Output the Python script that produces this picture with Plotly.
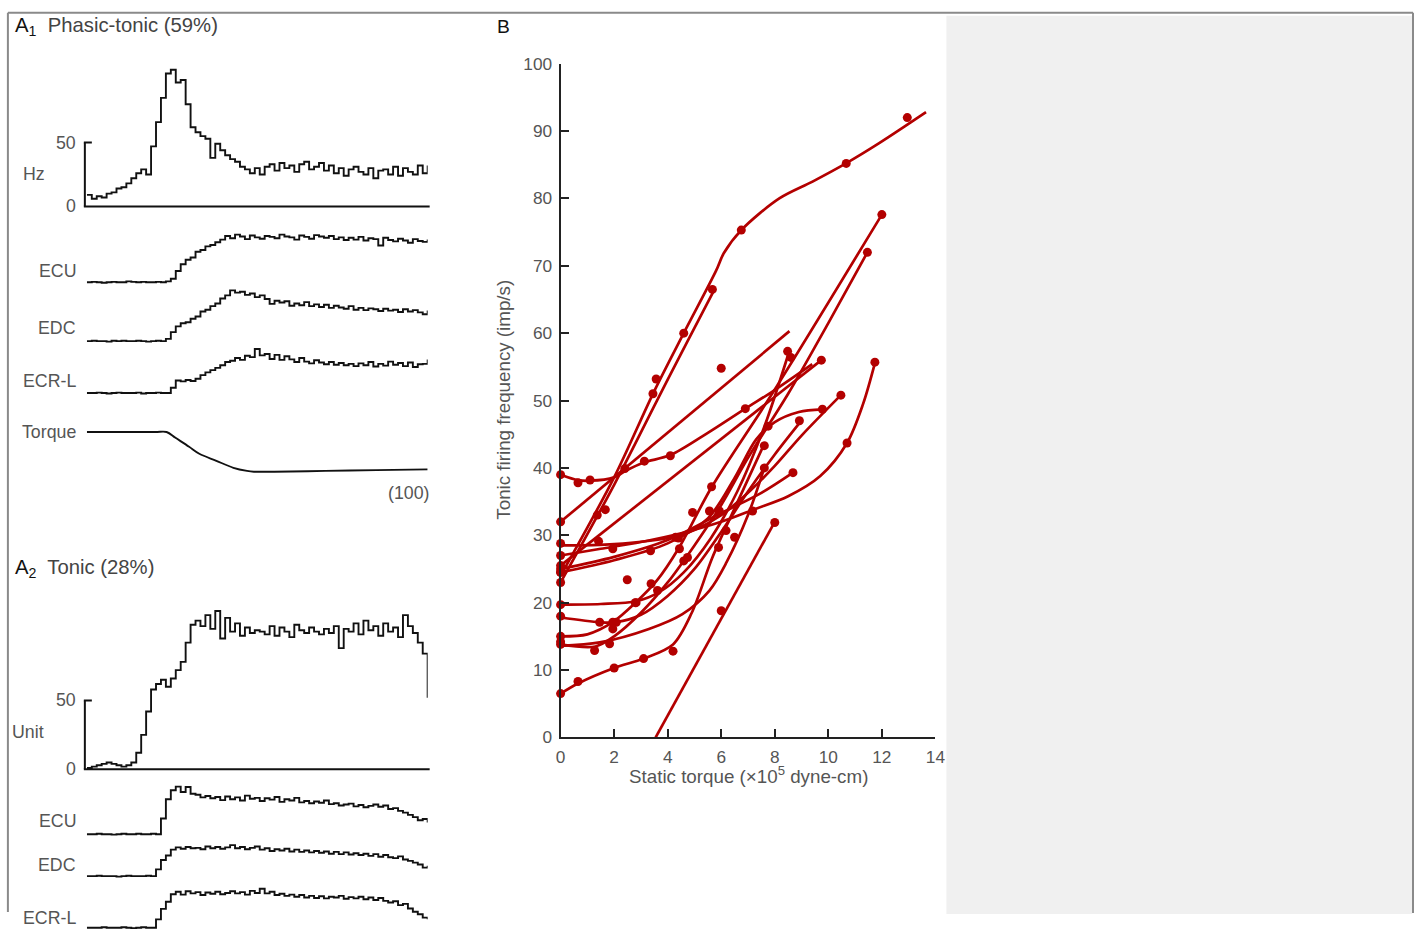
import plotly.graph_objects as go

W, H = 1423, 944
RED = "#b30000"
INK = "#111111"
GRAY = "#555555"
FONT = "Liberation Sans"

# ---------------- Panel A1 (phasic-tonic unit) ----------------
a1_hz = [9, 6, 8, 7, 10, 11, 14, 15, 18, 22, 26, 29, 25, 47, 66, 85, 104, 107, 97, 99,
         80, 62, 58, 55, 53, 38, 49, 44, 40, 37, 35, 31, 29, 26, 30, 25, 31, 33, 28, 34,
         30, 32, 27, 33, 35, 29, 31, 34, 28, 32, 26, 30, 24, 29, 31, 27, 25, 30, 22, 28,
         29, 25, 31, 24, 30, 27, 25, 32, 26, 32]
a1_ecu = [0, 0.1, 0, -0.1, 0, 0.1, 0, 0, 0.2, 0.1, 0, 0.1, 0, 0, 0.1, 0, 0.2,
          0.8, 2.5, 4.0, 5.0, 5.5, 6.8, 7.2, 8.0, 8.3, 8.9, 9.5, 10.3, 9.8, 10.6,
          10.2, 9.6, 10.4, 10.0, 9.7, 10.3, 10.1, 9.8, 10.6, 10.2, 10.0, 9.5, 10.4, 10.1,
          9.7, 10.5, 10.2, 9.9, 10.3, 9.6, 10.0, 9.4, 9.9, 9.5, 10.1, 9.3, 9.8, 9.6, 8.2,
          9.9, 9.4, 9.1, 9.7, 9.3, 8.8, 9.6, 9.2, 9.0, 9.5]
a1_edc = [0, 0.1, 0, 0, -0.1, 0.1, 0, 0.1, 0, 0, 0.1, 0, -0.1, 0, 0.1, 0,
          0.5, 2.0, 3.3, 4.0, 4.2, 5.0, 5.5, 6.6, 7.0, 7.8, 8.4, 9.5, 10.2, 11.3,
          10.8, 11.0, 10.3, 10.6, 9.8, 10.2, 9.4, 8.3, 9.0, 8.6, 8.9, 7.9, 8.4, 8.0,
          8.7, 7.8, 8.2, 7.6, 8.1, 7.4, 7.9, 7.5, 7.2, 7.8, 7.0, 7.4, 6.9, 7.3, 7.1,
          6.7, 7.2, 6.8, 7.0, 6.5, 7.1, 6.6, 6.9, 6.4, 6.0, 6.8]
a1_ecrl = [0, 0, 0.1, 0, -0.1, 0, 0.1, 0, 0, 0, 0.1, -0.1, 0, 0, 0.1, 0, 0,
           1.2, 2.8, 2.6, 2.9, 2.7, 3.2, 4.0, 4.6, 5.1, 5.6, 6.2, 6.9, 7.2, 7.8,
           7.4, 8.3, 8.0, 9.8, 8.4, 8.7, 7.6, 8.5, 7.4, 8.2, 7.5, 6.9, 7.8, 7.0,
           6.6, 7.3, 6.8, 6.4, 6.9, 6.3, 6.7, 6.2, 6.5, 6.0, 6.6, 6.2, 6.9, 5.9,
           6.5, 6.1, 7.0, 6.3, 6.7, 6.0, 6.8, 5.8, 6.4, 6.5, 7.5]
torque_t = [0, 20, 23.4, 26, 30, 33, 38, 43, 47, 49, 55, 70, 85, 100]
torque_v = [0, 0, 0, -1.5, -3.8, -5.6, -7.4, -9.2, -10.0, -10.2, -10.2, -10.0, -9.8, -9.6]

# ---------------- Panel A2 (tonic unit) ----------------
a2_unit = [1, 2, 3, 4, 5, 4, 3, 2, 3, 5, 12, 25, 42, 58, 62, 65, 60, 66, 72, 78,
           92, 105, 108, 104, 112, 102, 115, 95, 110, 100, 106, 97, 103, 99, 101, 100,
           98, 104, 97, 103, 100, 96, 105, 101, 99, 103, 100, 98, 102, 99, 104, 88,
           102, 100, 106, 98, 108, 101, 104, 97, 106, 100, 103, 96, 112, 104, 99, 92,
           84, 52]
a2_ecu = [0, 0, 0.1, 0, 0, -0.1, 0, 0.1, 0, 0, 0.1, 0, 0, 0.1, 0,
          3.5, 7.8, 9.8, 10.6, 9.4, 10.5, 9.0, 8.8, 8.2, 8.5, 8.0, 8.3, 7.6, 8.4, 7.8,
          8.2, 7.5, 8.6, 7.9, 8.1, 7.4, 8.0, 7.7, 8.3, 7.2, 7.8, 7.5, 8.1, 7.1, 7.4,
          6.9, 7.3, 7.0, 7.5, 6.7, 6.9, 6.4, 6.6, 6.8, 6.2, 6.5, 6.0, 6.3, 6.6, 6.1,
          6.4, 5.6, 5.8, 5.2, 4.8, 4.3, 3.8, 3.1, 3.4, 2.6]
a2_edc = [0, 0, 0.1, 0, 0, 0, -0.1, 0, 0.1, 0, 0, 0, 0.1, 0,
          1.5, 3.6, 4.6, 5.9, 6.4, 6.1, 6.5, 6.2, 6.3, 6.0, 6.6, 6.2, 6.5, 6.1, 6.4,
          6.9, 6.2, 6.5, 6.0, 6.3, 6.6, 5.9, 6.2, 5.6, 6.0, 5.7, 6.1, 5.5, 5.9, 5.4,
          5.7, 5.3, 5.6, 5.2, 5.5, 5.0, 5.4, 4.9, 5.3, 4.8, 5.1, 4.7, 5.0, 4.5, 4.9,
          4.3, 4.7, 4.2, 4.0, 4.4, 3.7, 3.4, 3.0, 2.6, 1.9, 2.3]
a2_ecrl = [0, 0, 0, 0.1, 0, 0, 0, 0.1, 0, -0.1, 0, 0.1, 0, 0,
           2.0, 4.5, 6.2, 8.0, 8.6, 7.9, 8.7, 8.2, 8.5, 7.8, 8.4, 8.1, 8.6, 8.0, 8.3,
           8.7, 8.2, 8.5, 7.9, 8.8, 8.3, 9.3, 8.2, 8.6, 7.8, 8.1, 7.6, 7.9, 7.4, 7.8,
           7.2, 7.6, 7.1, 7.5, 7.0, 7.4, 7.2, 7.6, 6.9, 7.3, 7.0, 7.4, 6.8, 7.2, 6.6,
           7.1, 6.4, 6.0, 6.3, 5.4, 5.7, 4.6, 3.8, 3.2, 2.4, 2.0]

# ---------------- Panel B (static torque vs tonic firing) ----------------
c01_fit_x = [0, 2, 3.45, 4.6, 5.8, 6.1, 6.75, 8.17, 9.41, 10.66, 11.9, 13.65]
c01_fit_y = [24, 38.6, 51, 60, 69.2, 71.9, 75.3, 80, 82.5, 85.2, 88.2, 92.8]
c01_pt_x = [0, 3.45, 4.6, 6.75, 10.67, 12.95]
c01_pt_y = [24.5, 51, 60, 75.3, 85.2, 92]

c02_fit_x = [0, 2, 3.6, 4.7, 5.75]
c02_fit_y = [23, 37.5, 50, 58.5, 66.5]
c02_pt_x = [0, 1.67, 1.37, 3.57, 5.67]
c02_pt_y = [23, 33.8, 33, 53.2, 66.5]

c03_fit_x = [0, 8.55]
c03_fit_y = [32, 60.3]
c03_pt_x = [0, 6.0]
c03_pt_y = [32, 54.8]

c04_fit_x = [0, 0.65, 1.1, 2, 2.4, 3.1, 4.1, 5.5, 6.9, 7.9, 9.4]
c04_fit_y = [39, 38.2, 38.1, 38.6, 39.5, 40.8, 41.9, 45.2, 48.8, 51.3, 55.4]
c04_pt_x = [0, 0.65, 1.1, 2.4, 3.13, 4.1, 6.9]
c04_pt_y = [39, 37.8, 38.2, 39.9, 41, 41.8, 48.8]

c05_fit_x = [0, 9.74]
c05_fit_y = [25.5, 56]
c05_pt_x = [0, 9.74]
c05_pt_y = [25.5, 56]

c06_fit_x = [0, 1.5, 3, 4.5, 6, 7.2, 8.5, 9.7, 10.7, 11.3, 11.75]
c06_fit_y = [27, 28, 29, 30.3, 32, 33.8, 35.8, 38.8, 43.7, 49.5, 55.7]
c06_pt_x = [0, 1.42, 3.36, 7.17, 10.7, 11.74]
c06_pt_y = [27, 29.1, 27.7, 33.6, 43.7, 55.7]

c07_fit_x = [0, 2, 4, 5, 6, 7, 8, 9, 10.47]
c07_fit_y = [28.5, 28.7, 29.6, 30.8, 33, 36.3, 40.3, 44.8, 50.8]
c07_pt_x = [0, 1.95, 4.3, 4.4, 5.93, 10.47]
c07_pt_y = [28.8, 28, 29.7, 29.6, 33.6, 50.8]

c08_fit_x = [0, 2, 4, 5.5, 6.5, 7.3, 8, 8.9, 9.78]
c08_fit_y = [24.5, 26.3, 28.8, 32.5, 38.5, 44.2, 46.8, 48.3, 48.7]
c08_pt_x = [0, 7.75, 8.92, 9.78]
c08_pt_y = [24.5, 46.2, 47, 48.7]

c09_fit_x = [0, 2, 4, 6, 7.5, 8.68]
c09_fit_y = [25, 26.8, 29.3, 33.3, 36.3, 39.3]
c09_pt_x = [0, 2.49, 5.56, 8.68]
c09_pt_y = [25, 23.4, 33.6, 39.3]

c10_fit_x = [3.55, 8.0]
c10_fit_y = [0, 32]
c10_pt_x = [6.0, 8.0]
c10_pt_y = [18.8, 31.9]

c11_fit_x = [0, 0.65, 2, 3.1, 4.2, 4.9, 5.67, 6.5, 7.6]
c11_fit_y = [6.5, 8.0, 10.3, 11.7, 13.8, 18.5, 26.7, 34, 43.5]
c11_pt_x = [0, 0.65, 2.0, 3.1, 4.2, 7.61]
c11_pt_y = [6.5, 8.3, 10.3, 11.7, 12.8, 43.3]

c12_fit_x = [0, 1, 1.95, 2.8, 3.6, 4.4, 5.65, 7.9, 12.0]
c12_fit_y = [15, 15.3, 17.1, 20, 23.3, 28, 37.2, 51, 77.6]
c12_pt_x = [0, 1.95, 2.79, 4.93, 5.64, 12.0]
c12_pt_y = [15, 17.1, 20, 33.4, 37.2, 77.6]

c13_fit_x = [0, 1.3, 2, 3, 4, 5, 6, 7, 8.5, 10, 11.46]
c13_fit_y = [13.8, 13.5, 15, 18.5, 23, 28.5, 34.5, 41.5, 51, 61.5, 72]
c13_pt_x = [0, 1.27, 1.83, 4.44, 4.6, 4.74, 11.46]
c13_pt_y = [13.8, 12.9, 13.9, 28, 26.2, 26.7, 72]

c14_fit_x = [0, 1.5, 2.82, 3.7, 4.6, 5.6, 6.6, 7.6, 8.5]
c14_fit_y = [19.7, 19.8, 20.2, 21.6, 24.5, 29.5, 36.5, 46, 56.8]
c14_pt_x = [0, 2.82, 3.38, 8.48, 8.6]
c14_pt_y = [19.7, 20, 22.8, 57.3, 56.4]

c15_fit_x = [0, 1.46, 2.08, 3, 4, 5, 6, 7, 8, 8.95]
c15_fit_y = [17.8, 17.1, 17.1, 18.2, 21, 25, 30.5, 36.5, 42, 46.8]
c15_pt_x = [0, 1.46, 2.08, 1.95, 3.62, 6.18]
c15_pt_y = [18, 17.1, 17.1, 16.1, 21.8, 30.7]

c16_fit_x = [0, 1.46, 3.3, 4.55, 5.56, 6.2, 7, 7.61]
c16_fit_y = [13.6, 14.1, 16.1, 18.3, 21.8, 26, 33, 40]
c16_pt_x = [0, 5.9, 6.5, 7.61]
c16_pt_y = [14.2, 28.2, 29.7, 40]

curves = [
    (c01_fit_x, c01_fit_y, c01_pt_x, c01_pt_y),
    (c02_fit_x, c02_fit_y, c02_pt_x, c02_pt_y),
    (c03_fit_x, c03_fit_y, c03_pt_x, c03_pt_y),
    (c04_fit_x, c04_fit_y, c04_pt_x, c04_pt_y),
    (c05_fit_x, c05_fit_y, c05_pt_x, c05_pt_y),
    (c06_fit_x, c06_fit_y, c06_pt_x, c06_pt_y),
    (c07_fit_x, c07_fit_y, c07_pt_x, c07_pt_y),
    (c08_fit_x, c08_fit_y, c08_pt_x, c08_pt_y),
    (c09_fit_x, c09_fit_y, c09_pt_x, c09_pt_y),
    (c10_fit_x, c10_fit_y, c10_pt_x, c10_pt_y),
    (c11_fit_x, c11_fit_y, c11_pt_x, c11_pt_y),
    (c12_fit_x, c12_fit_y, c12_pt_x, c12_pt_y),
    (c13_fit_x, c13_fit_y, c13_pt_x, c13_pt_y),
    (c14_fit_x, c14_fit_y, c14_pt_x, c14_pt_y),
    (c15_fit_x, c15_fit_y, c15_pt_x, c15_pt_y),
    (c16_fit_x, c16_fit_y, c16_pt_x, c16_pt_y),
]

b_xticks = [0, 2, 4, 6, 8, 10, 12, 14]
b_yticks = [0, 10, 20, 30, 40, 50, 60, 70, 80, 90, 100]

# ---------------- helpers (target pixel layout -> paper coordinates) ----------------
# the captured page shows a small inset/scale; these constants compensate it
OFF_X, SC_X = 5.1, 0.990
OFF_Y, SC_Y = 8.2, 0.9807


def px(x):
    return min(max((x - OFF_X) / SC_X / W, 0), 1)


def py(y):
    return min(max(1 - (y - OFF_Y) / SC_Y / H, 0), 1)


def ydomain(zero_px, scale, vmin, vmax):
    return [py(zero_px - vmin * scale), py(zero_px - vmax * scale)]


def times(vals):
    n = len(vals)
    return [i * 100 / (n - 1) for i in range(n)]


FS = 1.015  # font compensation

fig = go.Figure()
layout = dict(
    width=W, height=H, autosize=False,
    margin=dict(l=0, r=0, t=0, b=0, pad=0),
    paper_bgcolor="white", plot_bgcolor="rgba(0,0,0,0)",
    showlegend=False,
    font=dict(family=FONT, color=GRAY, size=15),
)

# ---- Panel B ----
for fx, fy, dx, dy in curves:
    fig.add_trace(go.Scatter(x=fx, y=fy, mode="lines",
                             line=dict(color=RED, width=2.7, shape="spline", smoothing=0.9),
                             hoverinfo="skip", xaxis="x", yaxis="y"))
    fig.add_trace(go.Scatter(x=dx, y=dy, mode="markers", marker=dict(color=RED, size=9),
                             cliponaxis=False, xaxis="x", yaxis="y"))

axis_common = dict(showgrid=False, zeroline=False, showline=True, linecolor="#222", linewidth=2,
                   ticks="inside", ticklen=8, tickwidth=2, tickcolor="#222",
                   tickfont=dict(family=FONT, size=17 * FS, color=GRAY), fixedrange=True)
layout["xaxis"] = dict(domain=[px(561), px(936)], range=[0, 14], tickvals=b_xticks,
                       anchor="y", ticklabelstandoff=3, **axis_common)
layout["yaxis"] = dict(domain=[py(737), py(62)], range=[0, 100], tickvals=b_yticks,
                       anchor="x", ticklabelstandoff=3, **axis_common)

# ---- Panel A traces ----
hidden = dict(visible=False, fixedrange=True)
layout["xaxis2"] = dict(domain=[px(87), px(428)], range=[0, 100], anchor="y2", **hidden)
layout["xaxis3"] = dict(domain=[px(87), px(428)], range=[0, 100], anchor="y7", **hidden)

a_specs = [
    # (values, yaxis, xaxis, zero_px, px_per_unit, vmin, vmax)
    (a1_hz, "y2", "x2", 205, 1.28, -4, 115),
    (a1_ecu, "y3", "x2", 281, 4.5, -1.5, 12),
    (a1_edc, "y4", "x2", 340, 4.5, -1.5, 13),
    (a1_ecrl, "y5", "x2", 392, 4.5, -1.5, 11),
    (a2_unit, "y7", "x3", 769, 1.38, -4, 125),
    (a2_ecu, "y8", "x3", 834, 4.5, -1.5, 12),
    (a2_edc, "y9", "x3", 876, 4.5, -1.5, 9),
    (a2_ecrl, "y10", "x3", 931, 4.5, -1.5, 11),
]
for vals, ya, xa, z, s, lo, hi in a_specs:
    fig.add_trace(go.Scatter(x=times(vals), y=vals, mode="lines", line=dict(color=INK, width=1.9, shape="hv"),
                             xaxis=xa, yaxis=ya, hoverinfo="skip"))
    layout["yaxis" + ya[1:]] = dict(domain=ydomain(z, s, lo, hi), range=[lo, hi], anchor=xa, **hidden)

# torque trace
fig.add_trace(go.Scatter(x=torque_t, y=torque_v, mode="lines", line=dict(color=INK, width=1.9, shape="spline"),
                         xaxis="x2", yaxis="y6", hoverinfo="skip"))
layout["yaxis6"] = dict(domain=ydomain(431, 3.9, -11.5, 1.5), range=[-11.5, 1.5], anchor="x2", **hidden)

# ---- shapes: frame, grey panel, A axis lines ----
shapes = [
    dict(type="rect", xref="paper", yref="paper", x0=px(947), x1=px(1413), y0=py(914), y1=py(14),
         fillcolor="#f0f0f0", line=dict(width=0), layer="below"),
    dict(type="line", xref="paper", yref="paper", x0=px(8), x1=px(1416), y0=py(11), y1=py(11),
         line=dict(color="#8a8a8a", width=2)),
    dict(type="line", xref="paper", yref="paper", x0=px(8), x1=px(8), y0=py(11), y1=py(912),
         line=dict(color="#8a8a8a", width=2)),
    dict(type="line", xref="paper", yref="paper", x0=px(1415), x1=px(1415), y0=py(11), y1=py(913),
         line=dict(color="#8a8a8a", width=2)),
]
for ya in ("y2", "y7"):
    shapes += [
        dict(type="line", xref="paper", yref=ya, x0=px(85), x1=px(85), y0=0, y1=50, line=dict(color=INK, width=2)),
        dict(type="line", xref="paper", yref=ya, x0=px(84), x1=px(92), y0=50, y1=50, line=dict(color=INK, width=2)),
        dict(type="line", xref="paper", yref=ya, x0=px(84), x1=px(430), y0=0, y1=0, line=dict(color=INK, width=2)),
    ]
layout["shapes"] = shapes


# ---- annotations ----
def label(text, x, y, anchor="right", size=17.5, color=GRAY, angle=0):
    return dict(text=text, x=px(x), y=py(y), xref="paper", yref="paper", xanchor=anchor, yanchor="middle",
                showarrow=False, textangle=angle, font=dict(family=FONT, size=size * FS, color=color))


annotations = [
    label("<span style='color:#111'>A<sub>1</sub></span>  Phasic-tonic (59%)", 13, 25, "left", 20, "#444"),
    label("<span style='color:#111'>A<sub>2</sub></span>  Tonic (28%)", 13, 568, "left", 20, "#444"),
    label("<span style='color:#111'>B</span>", 495, 25, "left", 19, "#111"),
    label("50", 78, 141), label("0", 78, 205), label("Hz", 34, 173, "center"),
    label("ECU", 78, 270), label("EDC", 78, 327), label("ECR-L", 78, 380), label("Torque", 78, 431),
    label("(100)", 431, 492),
    label("50", 78, 700), label("0", 78, 769), label("Unit", 10, 732, "left"),
    label("ECU", 78, 821), label("EDC", 78, 865), label("ECR-L", 78, 918),
    label("Static torque (×10<sup>5</sup> dyne-cm)", 749, 775, "center", 18.5),
    label("Tonic firing frequency (imp/s)", 503, 399, "center", 18.5, GRAY, -90),
]
layout["annotations"] = annotations

fig.update_layout(**layout)
fig.write_html(
    "out.html",
    config={"displayModeBar": False},
    post_script=(
        "document.documentElement.style.overflow='hidden';"
        "document.body.style.margin='0';document.body.style.overflow='hidden';"
    ),
)
